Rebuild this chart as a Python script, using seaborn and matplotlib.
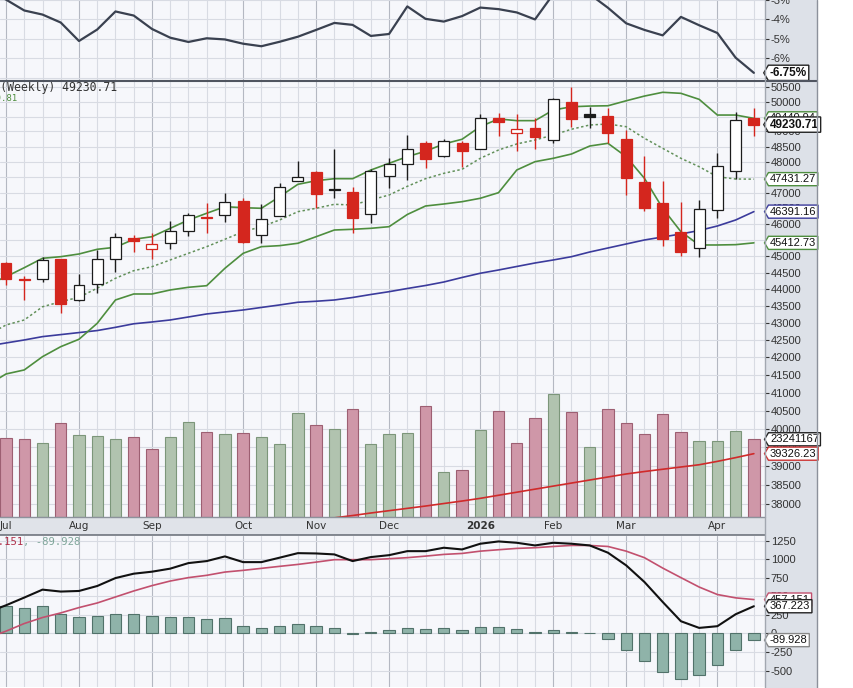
import matplotlib
matplotlib.use("Agg")
import matplotlib.pyplot as plt
import matplotlib.transforms as mtransforms
from matplotlib.lines import Line2D
from matplotlib.patches import Rectangle
from matplotlib.path import Path
from matplotlib.ticker import NullLocator
import seaborn as sns

# ---- values, Jul 2025 - Apr 2026 ----
weeks = list(range(42))
line_x = list(range(-1, 42))          # lines start one week left of the crop

month_labels = ["Jul", "Aug", "Sep", "Oct", "Nov", "Dec", "2026", "Feb", "Mar", "Apr"]
month_pos = [0, 4, 8, 13, 17, 21, 26, 30, 34, 39]

prev_close = 44850
opens = [44800, 44320, 44306, 44916, 43676, 44155, 44906, 45572, 45222, 45400,
         45791, 46230, 46276, 46729, 45657, 46263, 47360, 47663, 47115, 47026,
         46307, 47543, 47914, 48605, 48188, 48632, 48406, 49460, 48943, 49105,
         48716, 50007, 49575, 49520, 48749, 47348, 46656, 45760, 45244, 46443,
         47696, 49440]
highs = [44830, 44400, 44970, 44930, 44447, 45192, 45709, 45656, 45728, 46105,
         46359, 46675, 47000, 46816, 46634, 47307, 48022, 47700, 48406, 47168,
         47750, 48111, 48866, 48685, 48760, 48685, 49575, 49609, 49575, 49443,
         50122, 50500, 49838, 49788, 49049, 48186, 47382, 46707, 46761, 48277,
         49672, 49788]
lows = [44125, 43676, 44207, 43281, 43650, 43876, 44528, 45140, 44906, 45222,
        45625, 45728, 46074, 45400, 45400, 46263, 47360, 46497, 46816, 45709,
        46043, 47136, 47403, 47783, 48150, 47817, 48406, 48840, 48361, 48406,
        48630, 49163, 49105, 48630, 46920, 46420, 45320, 45010, 44980, 46180,
        47436, 48840]
closes = [44306, 44290, 44876, 43557, 44125, 44906, 45603, 45481, 45363, 45791,
          46276, 46205, 46707, 45432, 46149, 47188, 47510, 46942, 47095, 46199,
          47696, 47924, 48417, 48088, 48685, 48351, 49460, 49305, 49072, 48830,
          50090, 49436, 49497, 48950, 47458, 46497, 45523, 45121, 46475, 47858,
          49385, 49230.71]

bb_upper = [44125, 44376, 44649, 44937, 44986, 45069, 45214, 45276, 45524, 45604,
            45866, 46127, 46339, 46548, 46516, 46497, 46867, 47264, 47381, 47446,
            47446, 47728, 47946, 48166, 48344, 48584, 48740, 49163, 49421, 49364,
            49364, 49723, 49834, 49858, 49868, 50038, 50199, 50328, 50293, 50087,
            49553, 49553, 49440.94]
bb_middle = [42645, 42937, 43084, 43474, 43625, 43757, 44029, 44328, 44558, 44680,
             44885, 45090, 45295, 45524, 45760, 45917, 46127, 46390, 46497, 46624,
             46602, 46761, 46921, 47200, 47446, 47620, 47751, 48111, 48384, 48584,
             48716, 48883, 49075, 49217, 49251, 49160, 48773, 48440, 48111, 47836,
             47510, 47436, 47431.27]
bb_lower = [41215, 41525, 41639, 42018, 42306, 42520, 42986, 43676, 43855, 43855,
            43975, 44056, 44104, 44631, 45090, 45295, 45326, 45400, 45604, 45813,
            45835, 45866, 45917, 46301, 46570, 46634, 46707, 46816, 46995, 47728,
            48000, 48111, 48252, 48516, 48606, 48164, 47458, 46497, 45760, 45347,
            45347, 45357, 45412.73]
sma_blue = [42326, 42413, 42500, 42597, 42656, 42715, 42774, 42868, 42972, 43025,
            43084, 43172, 43261, 43320, 43379, 43454, 43528, 43608, 43638, 43676,
            43750, 43840, 43924, 44020, 44110, 44215, 44352, 44480, 44579, 44686,
            44793, 44885, 44986, 45130, 45254, 45378, 45502, 45595, 45689, 45797,
            45939, 46127, 46391.16]
sma_red_x = list(range(15, 42))
sma_red = [37450, 37510, 37575, 37640, 37700, 37765, 37825, 37885, 37945, 38010,
           38075, 38145, 38225, 38305, 38385, 38465, 38545, 38625, 38705, 38785,
           38850, 38910, 38970, 39030, 39120, 39220, 39326.23]

volume_m = [23.55, 23.24, 22.22, 28.06, 24.54, 24.24, 23.24, 23.94, 20.32, 23.85,
            28.36, 25.53, 24.84, 25.23, 23.85, 21.74, 31.07, 27.46, 26.44, 32.37,
            21.74, 24.84, 25.23, 33.27, 13.31, 13.91, 26.14, 31.68, 22.04, 29.75,
            36.79, 31.37, 21.02, 32.28, 28.06, 24.84, 30.77, 25.53, 22.64, 22.64,
            25.83, 23.241167]

pct_line = [-2.5, -2.98, -3.54, -3.75, -4.16, -5.11, -4.52, -3.59, -3.80, -4.49,
            -4.94, -5.16, -4.97, -5.03, -5.25, -5.38, -5.15, -4.89, -4.54, -4.18,
            -4.28, -4.85, -4.75, -3.33, -3.97, -4.11, -3.83, -3.39, -3.47, -3.64,
            -4.0, -2.7, -2.5, -2.7, -3.4, -4.20, -4.54, -4.82, -3.87, -4.30,
            -4.70, -5.97, -6.75]

macd = [286, 380, 484, 591, 565, 573, 640, 747, 806, 833, 874, 949, 976, 1039,
        962, 962, 1022, 1083, 1079, 1066, 976, 1030, 1056, 1110, 1110, 1156, 1133,
        1210, 1241, 1223, 1187, 1223, 1210, 1187, 1089, 918, 694, 425, 165, 75, 98,
        259, 367.223]
macd_signal = [-60, 31, 134, 215, 277, 349, 411, 492, 573, 645, 707, 753, 784, 828,
               851, 878, 905, 931, 962, 995, 995, 995, 1008, 1022, 1043, 1066, 1079,
               1110, 1129, 1147, 1156, 1173, 1187, 1187, 1173, 1110, 1022, 882, 753,
               626, 525, 480, 457.151]
macd_hist = [367, 349, 367, 259, 219, 233, 259, 259, 233, 219, 219, 201, 206, 98,
             71, 98, 129, 98, 71, -5, 13, 44, 73, 58, 75, 44, 89, 89, 58, 17, 44,
             17, 3, -81, -224, -368, -516, -610, -565, -426, -224, -89.928]

price_ticks = list(range(38000, 51000, 500))
pct_ticks = [-3, -4, -5, -6, -7]
macd_ticks = [1250, 1000, 750, 500, 250, 0, -250, -500]

# ---- style ----
sns.set_style("white")
plt.rcParams["font.family"] = ["Liberation Sans", "DejaVu Sans"]

PANEL = "#f6f7fb"
GRID = "#d8dbe3"
MONTH_GRID = "#b4b8c2"
GREEN = "#4e8e3e"
RED = "#d4261e"
DARK = "#1c1c1c"

W, H = 854, 688
PLOT_R = 765
XLIM = (-0.33, 41.61)

fig = plt.figure(figsize=(W / 100, H / 100), dpi=100, facecolor="white")


def rect(x0, y0, x1, y1):
    return [x0 / W, 1 - y1 / H, (x1 - x0) / W, (y1 - y0) / H]


def tag_box(x0, y0, width, height, mutation_size):
    pad = 0.14 * mutation_size
    x0, y0 = x0 - pad, y0 - pad
    x1, y1 = x0 + width + 2 * pad, y0 + height + 2 * pad
    ym = 0.5 * (y0 + y1)
    tip = 0.3 * (y1 - y0)
    return Path([(x0 - tip, ym), (x0, y1), (x1, y1), (x1, y0), (x0, y0),
                 (x0 - tip, ym)], closed=True)


def value_tag(axis, y, text, edge, bold=False, size=8, z=6, trans=None):
    axis.text(1 + 5 / PLOT_R, y, text,
              transform=trans if trans is not None else axis.get_yaxis_transform(),
              ha="left", va="center", fontsize=size, color="#111",
              fontweight="bold" if bold else "normal", zorder=z, clip_on=False,
              bbox=dict(boxstyle=tag_box, facecolor="white", edgecolor=edge,
                        linewidth=1.0))


def week_grid(a):
    for i in weeks:
        a.axvline(i, color=MONTH_GRID if i in month_pos else GRID, lw=0.8, zorder=0)


def right_ticks(a, ticks, labels):
    a.yaxis.tick_right()
    a.yaxis.set_minor_locator(NullLocator())
    a.set_yticks(ticks)
    a.set_yticklabels(labels)
    a.tick_params(axis="y", length=3, width=0.8, pad=1.2, labelsize=8,
                  colors="#333333")
    a.set_xticks([])


def clean(a):
    for s in a.spines.values():
        s.set_visible(False)
    a.set_xlim(*XLIM)
    a.set_xlabel("")
    a.set_ylabel("")


# gray axis column on the right
fig.add_artist(Rectangle((PLOT_R / W, 0), 52 / W, 1, transform=fig.transFigure,
                         facecolor="#dde1e8", edgecolor="none", zorder=-1))

# ---- top panel: percentage line ----
ax_top = fig.add_axes(rect(0, 0, PLOT_R, 80))
ax_top.set_facecolor(PANEL)
week_grid(ax_top)
for t in pct_ticks:
    ax_top.axhline(t, color=GRID, lw=0.8, zorder=0)
sns.lineplot(x=line_x, y=pct_line, ax=ax_top, color="#3a4150", linewidth=1.6)
ax_top.set_ylim(-7.118, -3.177)
right_ticks(ax_top, pct_ticks, [f"{t}%" for t in pct_ticks])
clean(ax_top)
value_tag(ax_top, -6.75, "-6.75%", "#222", bold=True, size=8.5)

# ---- price panel: background grid, volume, candles ----
main_rect = rect(0, 81, PLOT_R, 516.5)
y_lo, y_hi = 37675, 50718

ax_bg = fig.add_axes(main_rect)
ax_bg.set_facecolor(PANEL)
ax_bg.set_yscale("log")
week_grid(ax_bg)
for t in price_ticks:
    ax_bg.axhline(t, color=GRID, lw=0.8, zorder=0)
ax_bg.set_ylim(y_lo, y_hi)
ax_bg.set_xticks([])
ax_bg.set_yticks([])
ax_bg.yaxis.set_minor_locator(NullLocator())
clean(ax_bg)

ax_vol = fig.add_axes(main_rect)
ax_vol.patch.set_alpha(0)
up = [closes[0] >= prev_close] + [closes[i] >= closes[i - 1] for i in weeks[1:]]
vol_face = ["#b1c3af" if u else "#cf97a8" for u in up]
vol_edge = ["#7c967a" if u else "#9d5f72" for u in up]
ax_vol.bar(weeks, volume_m, width=0.62, color=vol_face, edgecolor=vol_edge,
           linewidth=0.8)
ax_vol.set_ylim(0, 131.1)
ax_vol.set_xticks([])
ax_vol.set_yticks([])
clean(ax_vol)

ax = fig.add_axes(main_rect)
ax.patch.set_alpha(0)
ax.set_yscale("log")
sns.lineplot(x=sma_red_x, y=sma_red, ax=ax, color="#d02a2a", linewidth=1.2)
sns.lineplot(x=line_x, y=sma_blue, ax=ax, color="#3b3b9c", linewidth=1.2)
sns.lineplot(x=line_x, y=bb_upper, ax=ax, color=GREEN, linewidth=1.2)
sns.lineplot(x=line_x, y=bb_lower, ax=ax, color=GREEN, linewidth=1.2)
sns.lineplot(x=line_x, y=bb_middle, ax=ax, color="#62905a", linewidth=1.1,
             linestyle=(0, (1.6, 1.6)))

for i in weeks:
    o, h, l, c = opens[i], highs[i], lows[i], closes[i]
    col = DARK if up[i] else RED
    ax.vlines(i, l, h, color=col, lw=1.0, zorder=3)
    ax.add_patch(Rectangle((i - 0.3, min(o, c)), 0.6, max(abs(c - o), 12),
                           facecolor=col if c < o else "white", edgecolor=col,
                           lw=0.9, zorder=4))

ax.set_ylim(y_lo, y_hi)
right_ticks(ax, price_ticks, [str(t) for t in price_ticks])
clean(ax)

vol_trans = mtransforms.blended_transform_factory(ax.transAxes, ax_vol.transData)
value_tag(ax, 23.241167, "23241167", "#222", trans=vol_trans)
value_tag(ax, 39326.23, "39326.23", "#cc3333")
value_tag(ax, 45412.73, "45412.73", GREEN)
value_tag(ax, 46391.16, "46391.16", "#3b3b9c")
value_tag(ax, 47431.27, "47431.27", GREEN)
value_tag(ax, 49440.94, "49440.94", GREEN, z=6)
value_tag(ax, 49230.71, "49230.71", "#222", bold=True, size=8.5, z=7)

# ---- date band ----
ax_date = fig.add_axes(rect(0, 517, PLOT_R, 534.5))
ax_date.set_facecolor("#e0e3e9")
ax_date.set_ylim(0, 1)
for lab, pos in zip(month_labels, month_pos):
    ax_date.text(pos, 0.5, lab, ha="center", va="center", fontsize=7.5,
                 family="DejaVu Sans", color="#333",
                 fontweight="bold" if lab == "2026" else "normal")
ax_date.set_xticks([])
ax_date.set_yticks([])
clean(ax_date)

# ---- MACD panel ----
ax_macd = fig.add_axes(rect(0, 535.5, PLOT_R, 687))
ax_macd.set_facecolor(PANEL)
week_grid(ax_macd)
for t in macd_ticks:
    ax_macd.axhline(t, color=GRID, lw=0.8, zorder=0)
ax_macd.bar(weeks, macd_hist, width=0.62, color="#8fb3a9", edgecolor="#51726a",
            linewidth=0.8, zorder=2)
sns.lineplot(x=line_x, y=macd_signal, ax=ax_macd, color="#c2506e", linewidth=1.2)
sns.lineplot(x=line_x, y=macd, ax=ax_macd, color="#111111", linewidth=1.5)
ax_macd.set_ylim(-722, 1321)
right_ticks(ax_macd, macd_ticks, [str(t) for t in macd_ticks])
clean(ax_macd)
value_tag(ax_macd, 457.151, "457.151", "#c2506e")
value_tag(ax_macd, 367.223, "367.223", "#222", z=7)
value_tag(ax_macd, -89.928, "-89.928", "#888888")

# ---- legend fragments cut by the left edge ----
fig.text(117 / W, 1 - 87 / H, r"\$INDU (Weekly) 49230.71", ha="right", va="center",
         family="DejaVu Sans Mono", fontsize=8.3, color="#333")
fig.text(17 / W, 1 - 99 / H, "BB(20,2.0) 49449.81", ha="right", va="center",
         family="DejaVu Sans Mono", fontsize=6.5, color=GREEN)
fig.text(23 / W, 1 - 542 / H, "MACD(12,26,9) 367.223, 457.151", ha="right",
         va="center", family="DejaVu Sans Mono", fontsize=7.7, color="#b0304a")
fig.text(23 / W, 1 - 542 / H, ", -89.928", ha="left", va="center",
         family="DejaVu Sans Mono", fontsize=7.7, color="#7fa69a")

# ---- panel separators ----
def hline(y, color, lw, x1=817):
    fig.add_artist(Line2D([0, x1 / W], [1 - y / H] * 2, transform=fig.transFigure,
                          color=color, lw=lw, zorder=5))


hline(80.5, "#505560", 1.5)
hline(516.8, "#8d929c", 1.0, PLOT_R)
hline(534.8, "#6f747e", 1.2, PLOT_R)
fig.add_artist(Line2D([PLOT_R / W] * 2, [0, 1], transform=fig.transFigure,
                      color="#a2a7b0", lw=1.0, zorder=5))
fig.add_artist(Line2D([817 / W] * 2, [0, 1], transform=fig.transFigure,
                      color="#8c919b", lw=1.0, zorder=5))

fig.savefig("out.png", dpi=100, facecolor="white")
